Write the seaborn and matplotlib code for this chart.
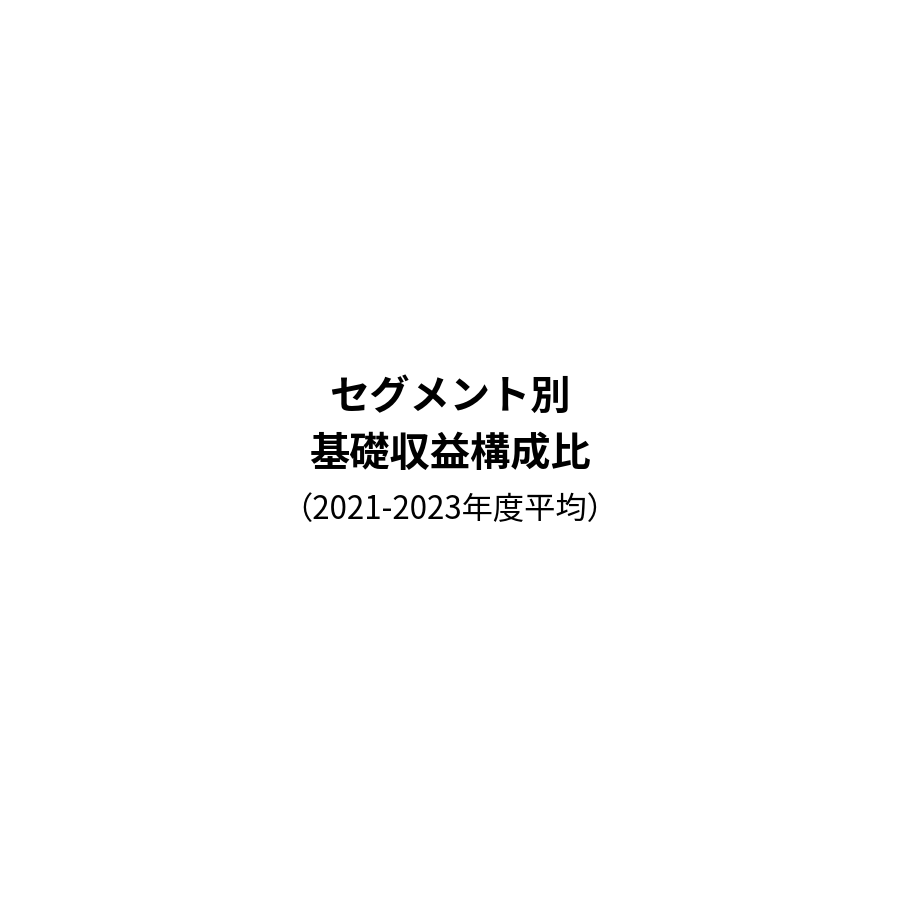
import matplotlib
matplotlib.use("Agg")
import matplotlib.pyplot as plt
import seaborn as sns

# Center label text (the chart itself shows only the title block)
title_lines = ["セグメント別", "基礎収益構成比"]
subtitle = "（2021-2023年度平均）"

sns.set_theme(style="white")
plt.rcParams['font.family'] = ['Noto Sans CJK JP', 'DejaVu Sans']

fig, ax = plt.subplots(figsize=(9, 9), dpi=100)
fig.patch.set_facecolor("white")
ax.set_axis_off()
ax.set_xlim(0, 900)
ax.set_ylim(900, 0)
fig.subplots_adjust(left=0, right=1, top=1, bottom=0)

ax.text(450, 397, title_lines[0], ha="center", va="center",
        fontsize=29, fontweight="bold", color="black")
ax.text(450, 455, title_lines[1], ha="center", va="center",
        fontsize=29, fontweight="bold", color="black")
ax.text(450, 510, subtitle, ha="center", va="center",
        fontsize=22.5, fontweight="normal", color="black")

fig.savefig("out.png", dpi=100, facecolor="white")
